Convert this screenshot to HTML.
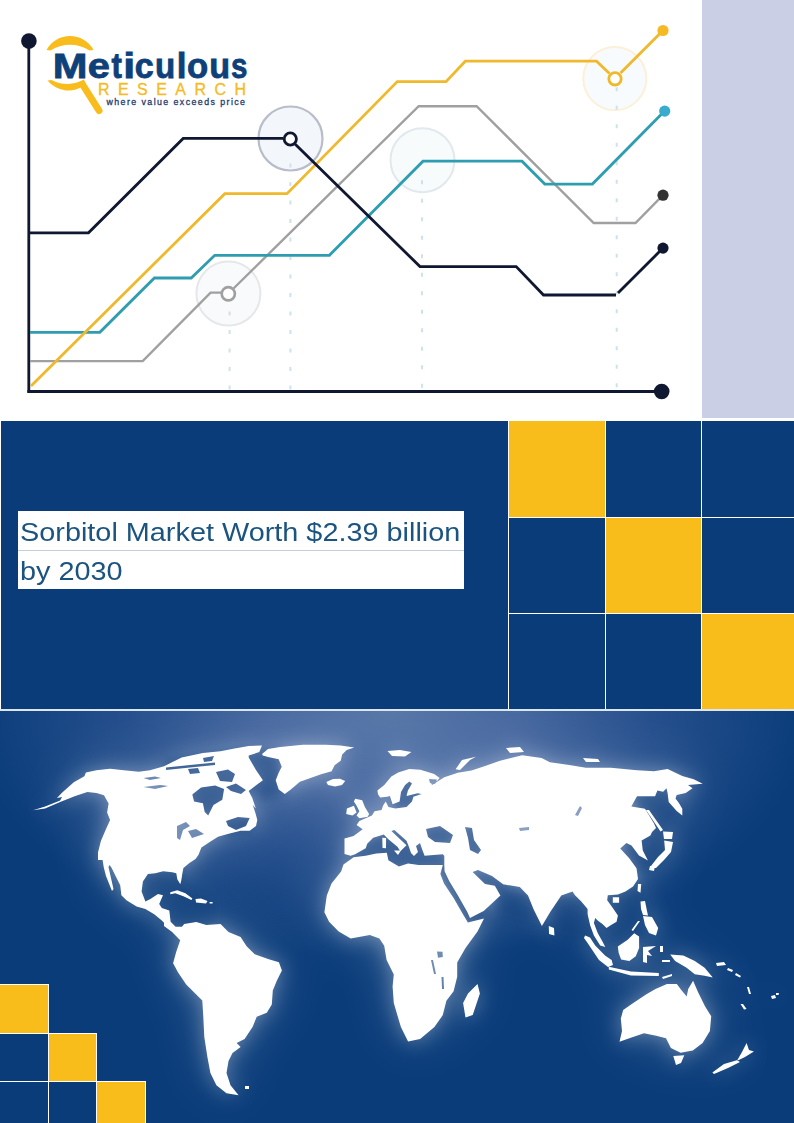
<!DOCTYPE html>
<html><head><meta charset="utf-8">
<style>
html,body{margin:0;padding:0;}
body{width:794px;height:1123px;position:relative;overflow:hidden;background:#fff;font-family:"Liberation Sans",sans-serif;}
.abs{position:absolute;}
#lav{left:702px;top:0;width:92px;height:417.5px;background:#cbcfe5;}
#mid{left:1px;top:421px;width:793px;height:288px;background:#0a3c7a;}
#bot{left:0;top:710px;width:794px;height:413px;background:#0a3c7a;overflow:hidden;}
#title{left:18px;top:511px;width:446px;height:78px;background:#fff;}
#title .l{position:absolute;left:1.5px;transform:scaleX(1.131);transform-origin:0 0;font-size:25.5px;color:#1c5480;white-space:nowrap;}
#title .sep{position:absolute;left:0;top:39px;width:446px;height:1px;background:#c3cfdc;}
.cell{position:absolute;}
</style></head>
<body>
<div class="abs" id="lav"></div>

<svg class="abs" style="left:0;top:0" width="702" height="420" viewBox="0 0 702 420">
  <!-- big halo circles -->
  <circle cx="290.5" cy="138.5" r="32" fill="#f3f6fa" stroke="#b9bdc9" stroke-width="2.2"/>
  <circle cx="422.5" cy="160.2" r="32" fill="#f8fbfc" stroke="#e1e9ed" stroke-width="2"/>
  <circle cx="228.4" cy="293.6" r="32" fill="#f8fafb" stroke="#e6e7ea" stroke-width="2"/>
  <circle cx="614.8" cy="78.6" r="31.5" fill="#f8fbfd" stroke="#fcf0d8" stroke-width="2"/>
  <!-- dashed verticals -->
  <g stroke="#cfe2ec" stroke-width="2" stroke-dasharray="4 14.5">
    <line x1="229.6" y1="311.5" x2="229.6" y2="390"/>
    <line x1="290.4" y1="163.6" x2="290.4" y2="390"/>
    <line x1="422" y1="180.2" x2="422" y2="390"/>
    <line x1="616.7" y1="87.3" x2="616.7" y2="390"/>
  </g>
  <!-- axes -->
  <line x1="28.8" y1="41" x2="28.8" y2="392.8" stroke="#0f1731" stroke-width="2.8"/>
  <line x1="27.4" y1="391.4" x2="661.7" y2="391.4" stroke="#0f1731" stroke-width="3"/>
  <circle cx="28.9" cy="41.1" r="7.8" fill="#0f1731"/>
  <circle cx="661.7" cy="391.5" r="7.8" fill="#0f1731"/>
  <g fill="none" stroke-width="2.8" stroke-linejoin="miter">
    <polyline stroke="#a0a0a0" stroke-width="2.4" points="30,361.1 142.7,361.1 210.6,292.6 221,292.6"/>
    <polyline stroke="#a0a0a0" stroke-width="2.4" points="233.5,288.5 418.7,106.2 476.6,106.2 593.7,223 635.5,223 663,195.2"/>
    <polyline stroke="#2f9db0" points="30,332.3 99.8,332.3 154.4,278 191.2,278 214.8,255.3 329.4,255.3 423,161.2 522,161.2 544.8,184.1 592.4,184.1 664.6,111.1"/>
    <polyline stroke="#f0b92c" points="31,386 224.8,193.7 287,193.7 397.3,81.6 446,81.6 465.3,61.2 596.5,61.2 609.5,73.5"/>
    <polyline stroke="#f0b92c" points="620.5,73 663,30.5"/>
    <polyline stroke="#0f1731" points="30,232.8 88.5,232.8 183.2,138.4 283,138.4"/>
    <polyline stroke="#0f1731" points="295,144 420,266.6 516.2,266.6 543.5,295 616,295"/>
    <polyline stroke="#0f1731" points="618,293 663,248.1"/>
  </g>
  <!-- small ring markers -->
  <circle cx="290.3" cy="139" r="6.1" fill="#fff" stroke="#0f1731" stroke-width="2.8"/>
  <circle cx="228.3" cy="293.8" r="6.6" fill="#fff" stroke="#a0a0a0" stroke-width="2.7"/>
  <circle cx="615" cy="78.8" r="6.2" fill="#fff" stroke="#f0b92c" stroke-width="2.8"/>
  <!-- end dots -->
  <circle cx="663" cy="30.5" r="5.6" fill="#f5b923"/>
  <circle cx="664.7" cy="111.1" r="5.6" fill="#3aabcc"/>
  <circle cx="663" cy="195.2" r="5.6" fill="#333333"/>
  <circle cx="663" cy="248.1" r="5.6" fill="#0f1731"/>
</svg>

<!-- logo -->
<svg class="abs" style="left:0;top:0" width="260" height="120" viewBox="0 0 260 120">
  <path d="M46.5,50 A26.8,26.8 0 0 1 93.5,50 L89.5,50.5 A36,36 0 0 0 50.5,50.5 Z" fill="#f8bc1c"/>
  <path d="M47.5,80.5 A26.8,26.8 0 0 0 86,84 L84,79.5 A34,34 0 0 1 51.5,80 Z" fill="#f8bc1c"/>
  <line x1="83.5" y1="86" x2="99" y2="110.5" stroke="#f8bc1c" stroke-width="7" stroke-linecap="round"/>
  <text transform="translate(52.78 77.9) scale(1.192 1)" font-family="Liberation Sans" font-weight="bold" font-size="35" fill="#0e4079" stroke="#0e4079" stroke-width="0.8">M</text>
  <text transform="translate(87.81 77.9) scale(1.137 1)" font-family="Liberation Sans" font-weight="bold" font-size="35" fill="#0e4079" stroke="#0e4079" stroke-width="0.8">e</text>
  <text transform="translate(111.39 77.9) scale(0.894 1)" font-family="Liberation Sans" font-weight="bold" font-size="35" fill="#0e4079" stroke="#0e4079" stroke-width="0.8">t</text>
  <text transform="translate(123.20 77.9) scale(1.224 1)" font-family="Liberation Sans" font-weight="bold" font-size="35" fill="#0e4079" stroke="#0e4079" stroke-width="0.8">i</text>
  <text transform="translate(134.74 77.9) scale(0.974 1)" font-family="Liberation Sans" font-weight="bold" font-size="35" fill="#0e4079" stroke="#0e4079" stroke-width="0.8">c</text>
  <text transform="translate(154.91 77.9) scale(0.946 1)" font-family="Liberation Sans" font-weight="bold" font-size="35" fill="#0e4079" stroke="#0e4079" stroke-width="0.8">u</text>
  <text transform="translate(176.75 77.9) scale(1.000 1)" font-family="Liberation Sans" font-weight="bold" font-size="35" fill="#0e4079" stroke="#0e4079" stroke-width="0.8">l</text>
  <text transform="translate(186.91 77.9) scale(0.992 1)" font-family="Liberation Sans" font-weight="bold" font-size="35" fill="#0e4079" stroke="#0e4079" stroke-width="0.8">o</text>
  <text transform="translate(209.15 77.9) scale(0.976 1)" font-family="Liberation Sans" font-weight="bold" font-size="35" fill="#0e4079" stroke="#0e4079" stroke-width="0.8">u</text>
  <text transform="translate(230.92 77.9) scale(0.845 1)" font-family="Liberation Sans" font-weight="bold" font-size="35" fill="#0e4079" stroke="#0e4079" stroke-width="0.8">s</text>
  <text x="98" y="95" font-family="Liberation Sans" font-size="16" fill="#f5bb22" stroke="#f5bb22" stroke-width="0.3" textLength="148" lengthAdjust="spacing">RESEARCH</text>
  <text x="106.5" y="104.6" font-family="Liberation Sans" font-size="8.8" fill="#1f3d6e" stroke="#1f3d6e" stroke-width="0.3" textLength="138.5" lengthAdjust="spacing">where value exceeds price</text>
</svg>

<div class="abs" id="mid"></div>
<!-- grid -->
<svg class="abs" style="left:508px;top:420px" width="286" height="291" viewBox="508 420 286 291">
  <rect x="508" y="420" width="286" height="291" fill="#fff"/>
  <rect x="509" y="421" width="96" height="96" fill="#f9bd1b"/>
  <rect x="606" y="421" width="95" height="96" fill="#0a3c7a"/>
  <rect x="702" y="421" width="92" height="96" fill="#0a3c7a"/>
  <rect x="509" y="518" width="96" height="95" fill="#0a3c7a"/>
  <rect x="606" y="518" width="95" height="95" fill="#f9bd1b"/>
  <rect x="702" y="518" width="92" height="95" fill="#0a3c7a"/>
  <rect x="509" y="614" width="96" height="95.5" fill="#0a3c7a"/>
  <rect x="606" y="614" width="95" height="95.5" fill="#0a3c7a"/>
  <rect x="702" y="614" width="92" height="95.5" fill="#f9bd1b"/>
</svg>

<div class="abs" id="title">
  <div class="l" style="top:6.7px">Sorbitol Market Worth $2.39 billion</div>
  <div class="sep"></div>
  <div class="l" style="top:45.5px">by 2030</div>
</div>

<svg class="abs" style="left:0;top:710px" width="794" height="413" viewBox="0 710 794 413">
<defs>
<radialGradient id="bg" cx="390" cy="712" r="400" gradientUnits="userSpaceOnUse" gradientTransform="translate(390 712) scale(1.05 0.62) translate(-390 -712)"><stop offset="0" stop-color="#5878a9"/><stop offset="0.3" stop-color="#4768a0"/><stop offset="0.62" stop-color="#26508d"/><stop offset="1" stop-color="#0a3c7a"/></radialGradient>
<mask id="lm" maskUnits="userSpaceOnUse" x="0" y="700" width="794" height="430"><path d="M33.0,810.3 L45.1,806.5 L60.2,800.5 L62.0,797.0 L57.0,798.0 L61.7,792.9 L73.8,782.3 L84.4,776.3 L85.9,772.5 L96.5,770.2 L110.1,768.7 L123.7,770.2 L138.8,771.7 L150.0,770.2 L164.1,766.2 L181.7,757.4 L202.9,753.0 L220.5,751.2 L234.6,748.6 L248.7,745.9 L262.0,745.5 L259.3,752.1 L248.7,755.6 L248.7,757.4 L255.8,769.7 L262.9,780.3 L255.8,785.6 L248.7,790.9 L252.3,798.0 L255.8,808.5 L252.8,805.1 L255.8,814.2 L257.3,820.0 L256.0,826.0 L249.7,830.8 L240.7,830.8 L228.6,833.8 L218.0,836.8 L210.5,841.4 L201.4,847.4 L198.4,855.0 L195.5,859.1 L189.4,863.1 L183.4,868.1 L182.4,873.2 L181.3,880.2 L180.3,884.3 L177.3,879.2 L176.3,873.2 L172.3,872.2 L163.2,871.2 L155.2,873.2 L147.9,873.9 L142.9,881.4 L141.6,891.5 L145.4,901.6 L150.4,899.0 L158.0,894.0 L163.0,895.3 L159.2,904.1 L161.8,907.9 L169.3,910.4 L170.6,921.7 L175.6,926.8 L183.2,926.8 L185.0,928.0 L180.6,931.8 L174.3,930.5 L168.0,926.8 L161.8,920.5 L154.2,914.2 L145.4,909.1 L136.6,906.6 L126.5,900.3 L121.4,895.3 L120.2,885.2 L111.4,867.6 L109.5,865.0 L108.5,867.0 L113.5,889.0 L112.0,891.0 L106.0,876.0 L103.8,867.6 L102.6,860.0 L98.0,860.0 L98.0,852.6 L100.8,841.2 L105.6,830.0 L110.1,820.0 L107.1,812.5 L108.6,803.5 L104.0,795.2 L96.5,792.9 L87.4,792.1 L75.3,795.9 L60.2,802.0 L45.1,808.5Z M262.1,753.9 L268.0,749.0 L280.2,747.1 L302.9,744.8 L325.6,744.8 L340.7,745.6 L354.3,747.4 L346.7,750.1 L342.2,754.6 L340.7,760.7 L334.6,765.2 L331.6,771.2 L321.0,774.3 L310.5,778.0 L299.9,781.8 L290.8,789.4 L284.8,793.9 L278.7,789.4 L275.7,780.3 L278.7,772.8 L281.7,766.7 L278.7,759.2 L268.1,756.9 L262.8,755.4Z M326.3,782.0 L333.0,779.0 L340.0,778.8 L345.2,781.0 L342.0,785.0 L335.0,786.4 L328.0,785.0Z M387.5,751.0 L400.0,750.0 L411.4,752.0 L405.0,756.4 L392.0,756.0Z M355.2,798.8 L362.2,800.2 L364.9,807.1 L369.1,814.0 L367.7,816.8 L359.4,818.2 L356.6,815.4 L359.4,811.3 L356.6,805.7 L353.9,801.6Z M346.9,808.5 L353.9,805.7 L356.6,812.6 L352.5,815.4 L346.2,814.0Z M378.1,794.6 L377.4,790.5 L384.3,784.9 L391.3,776.6 L398.2,772.5 L409.3,769.0 L420.4,769.7 L434.2,773.9 L439.7,778.0 L437.0,781.0 L430.0,780.0 L432.0,785.0 L444.3,777.2 L457.9,772.7 L471.5,770.4 L485.1,765.9 L500.0,760.8 L522.2,755.2 L541.6,758.0 L549.9,762.2 L569.3,765.0 L585.9,767.7 L610.8,767.7 L637.0,770.2 L654.0,771.3 L667.6,769.1 L682.3,775.9 L693.7,779.3 L702.7,783.8 L688.0,785.0 L692.5,788.3 L685.7,792.9 L676.7,795.1 L675.5,798.5 L678.9,803.1 L682.3,808.7 L682.3,815.5 L676.7,811.0 L668.7,801.9 L667.6,792.9 L666.5,788.3 L663.1,791.7 L657.4,790.6 L655.1,796.3 L637.0,796.3 L631.3,806.5 L645.0,808.7 L654.0,823.5 L656.0,828.0 L652.0,832.0 L650.4,835.4 L641.6,840.5 L642.8,850.5 L647.9,860.6 L639.0,855.6 L631.5,845.5 L626.4,843.0 L620.2,848.6 L629.0,858.1 L636.5,868.2 L638.0,878.9 L633.0,886.4 L625.4,891.5 L617.9,894.6 L607.8,895.3 L607.2,900.3 L612.8,907.9 L617.9,915.4 L616.6,921.7 L610.3,925.5 L606.5,928.0 L602.7,924.2 L597.7,920.5 L595.2,917.9 L593.9,923.0 L597.7,933.0 L602.7,941.9 L605.3,946.9 L600.2,945.6 L593.9,935.6 L590.2,925.5 L587.6,914.2 L587.6,909.1 L581.3,901.6 L575.0,895.3 L572.5,891.5 L561.3,895.4 L550.2,912.0 L541.9,925.9 L533.6,909.3 L528.0,895.4 L519.8,887.1 L503.1,884.3 L492.0,876.0 L478.0,870.0 L472.6,872.0 L485.0,884.0 L494.8,885.7 L500.4,895.4 L483.7,911.0 L470.0,918.0 L467.3,912.0 L457.8,895.3 L449.2,880.9 L444.6,871.3 L444.3,864.9 L444.3,855.8 L442.8,854.3 L424.6,855.8 L422.0,849.0 L420.0,843.0 L416.0,846.0 L418.0,852.0 L414.0,856.0 L411.0,853.0 L409.0,847.0 L406.5,840.7 L394.4,830.1 L391.4,831.0 L406.5,845.2 L400.4,851.3 L397.4,846.7 L388.4,839.2 L383.8,834.6 L373.2,837.7 L367.2,843.7 L365.7,848.2 L355.1,854.3 L350.6,855.8 L344.5,854.0 L344.5,838.4 L353.6,836.1 L362.7,829.3 L356.6,825.1 L359.4,821.0 L371.9,815.4 L374.6,811.3 L381.6,809.9 L383.0,805.7 L385.7,801.6 L388.5,807.1 L395.4,808.5 L406.5,807.1 L412.0,801.6 L413.4,796.7 L421.7,794.0 L417.6,793.3 L406.5,796.0 L407.9,790.5 L412.0,783.6 L409.3,781.5 L405.1,784.9 L401.0,791.9 L399.6,801.6 L392.6,804.3 L389.9,796.0 L387.1,796.7 L380.2,797.4Z M343.5,864.4 L353.6,857.3 L365.7,855.8 L376.3,853.5 L386.8,852.8 L388.4,860.3 L398.9,866.4 L408.0,863.4 L418.6,864.9 L430.7,864.9 L442.8,864.9 L440.4,873.9 L444.0,883.5 L453.6,897.9 L463.1,914.6 L467.9,922.5 L484.0,918.5 L477.5,931.4 L465.5,948.1 L457.2,962.5 L457.2,976.8 L453.6,991.2 L446.4,1000.8 L442.8,1015.1 L434.4,1027.1 L420.1,1039.0 L408.1,1041.4 L400.9,1027.1 L393.8,1003.1 L392.6,986.4 L393.8,974.4 L386.6,960.1 L384.2,945.7 L379.4,938.5 L369.8,934.9 L350.7,938.5 L338.7,931.4 L329.1,921.8 L324.4,912.2 L326.8,895.5 L331.5,883.5 L341.1,871.5Z M477.5,984.0 L479.9,993.6 L472.7,1015.1 L465.5,1017.5 L463.1,1003.1 L468.0,993.6Z M164.0,920.0 L172.1,928.1 L180.2,929.1 L184.2,924.0 L196.3,922.0 L206.3,925.0 L220.5,924.0 L228.5,932.1 L240.6,937.1 L246.6,946.2 L254.7,954.3 L268.8,959.3 L278.9,962.3 L281.9,970.4 L276.9,980.5 L272.8,990.5 L271.8,1004.6 L266.8,1012.7 L256.7,1016.7 L252.7,1026.8 L244.6,1038.9 L236.6,1042.9 L240.6,1047.0 L232.5,1053.0 L228.5,1061.1 L226.5,1073.1 L230.5,1085.2 L238.6,1095.3 L226.5,1093.3 L216.4,1085.2 L210.4,1073.1 L207.4,1057.0 L204.3,1036.9 L203.3,1016.7 L202.3,1000.6 L186.2,984.5 L178.1,972.4 L173.1,963.3 L176.1,952.2 L180.2,940.2 L172.1,932.1 L164.0,926.0Z M623.2,1010.1 L631.8,1004.0 L646.4,994.2 L655.5,988.9 L667.0,984.0 L676.8,984.0 L681.7,990.6 L686.7,996.6 L688.2,988.9 L693.1,980.8 L698.1,992.2 L705.1,1006.4 L711.2,1016.2 L709.9,1030.9 L702.6,1043.1 L692.8,1050.4 L680.6,1052.8 L670.9,1048.0 L666.0,1038.2 L656.2,1035.7 L644.0,1033.3 L629.3,1038.2 L619.5,1041.8 L622.0,1030.9 L620.8,1018.6Z M673.3,1056.0 L684.3,1055.3 L681.0,1063.0 L676.0,1065.1Z M746.6,1043.1 L749.0,1050.0 L753.9,1051.6 L745.0,1057.0 L736.8,1061.0 L742.0,1052.0Z M736.8,1060.2 L740.0,1062.0 L728.0,1068.0 L714.0,1074.0 L712.4,1072.4 L724.0,1064.0Z M585.1,935.6 L590.0,937.5 L595.2,945.6 L605.3,955.7 L611.6,960.0 L613.0,965.0 L608.0,967.0 L599.0,960.0 L587.6,943.1 L584.0,938.0Z M608.8,966.7 L630.9,971.4 L658.8,973.0 L658.8,976.0 L630.9,975.4 L608.8,969.5Z M617.8,946.4 L627.7,939.8 L634.2,933.3 L639.1,936.5 L639.1,948.0 L635.8,956.2 L629.3,961.1 L621.1,959.5 L618.7,952.9Z M643.0,947.0 L656.0,946.0 L648.0,951.0 L652.0,956.0 L647.0,955.0 L647.0,963.0 L643.0,962.0Z M670.2,954.6 L683.3,955.4 L694.8,961.1 L704.6,967.7 L712.8,977.5 L704.6,975.8 L694.8,974.2 L686.6,967.7 L675.1,961.1Z M640.5,901.6 L645.0,901.0 L646.8,910.0 L648.0,915.4 L643.0,915.0 L641.0,909.0Z M643.0,916.0 L652.0,917.0 L658.2,928.0 L656.0,935.6 L649.0,933.0 L645.0,925.0Z M638.0,921.0 L640.0,921.0 L633.0,931.0 L631.5,930.0Z M664.2,840.5 L673.0,842.0 L671.0,852.0 L664.0,860.0 L656.0,868.0 L651.0,866.0 L658.0,857.0 L665.0,850.0Z M663.0,831.6 L673.0,832.0 L672.0,839.0 L664.0,839.0Z M646.0,810.0 L649.0,810.0 L663.0,830.0 L660.5,831.5Z M548.8,926.0 L554.0,928.0 L554.4,935.6 L549.0,934.0Z M638.0,884.0 L641.2,884.0 L640.5,892.7 L637.5,891.0Z M612.8,897.2 L619.1,897.2 L619.1,902.8 L612.8,902.8Z M170.3,892.3 L177.3,890.3 L185.4,893.3 L192.4,898.4 L191.4,899.9 L183.4,896.3 L175.3,893.3 L170.3,894.3Z M195.5,899.0 L201.0,898.4 L207.5,901.0 L206.0,903.4 L196.0,902.5Z M209.6,902.0 L212.6,901.9 L212.6,903.4 L209.6,903.4Z M382.3,837.7 L386.1,838.0 L386.0,848.2 L382.5,848.0Z M394.0,850.5 L401.0,850.5 L398.0,855.0Z M716.0,963.0 L724.0,962.0 L726.0,965.0 L717.0,966.0Z M728.0,968.0 L733.0,970.0 L732.0,972.0 L727.0,970.0Z M736.0,973.0 L741.0,976.0 L740.0,977.5 L735.0,975.0Z M747.0,987.0 L749.0,987.0 L751.0,994.0 L749.0,994.0Z M740.5,1004.0 L743.0,1004.0 L746.6,1009.0 L744.0,1009.5Z M771.0,996.0 L775.0,995.0 L776.0,998.0 L772.0,999.0Z M776.0,993.0 L779.0,993.0 L778.5,995.0 L776.0,995.0Z M245.0,1086.0 L249.0,1086.0 L249.0,1089.0 L245.0,1089.0Z M650.0,866.0 L655.0,866.0 L654.0,871.0 L649.0,870.0Z M662.0,977.0 L672.0,974.0 L672.0,976.0 L663.0,979.0Z M660.0,946.0 L663.0,946.0 L663.0,952.0 L660.0,952.0Z M662.0,960.0 L670.0,960.0 L670.0,962.0 L662.0,962.0Z M455.6,769.3 L462.0,760.0 L476.0,756.8 L470.0,760.0 L460.0,770.0Z M506.0,748.0 L520.0,747.0 L524.0,752.0 L510.0,753.0Z M583.0,758.0 L598.0,759.0 L600.0,762.0 L586.0,762.0Z" fill="#fff"/><path d="M192.3,794.4 L201.1,787.4 L215.2,785.6 L224.1,789.1 L222.3,799.7 L213.5,805.0 L208.2,815.6 L204.7,812.1 L202.9,803.2 L194.1,801.5Z M216.0,772.0 L228.0,769.5 L235.0,774.0 L232.0,782.0 L220.0,781.0Z M226.0,787.0 L236.0,783.5 L246.0,790.0 L241.0,794.0 L231.0,791.0Z M166.0,767.5 L190.0,765.0 L215.0,762.5 L215.0,765.0 L190.0,767.5 L166.0,770.0Z M188.0,769.0 L198.0,768.0 L200.0,773.0 L190.0,774.0Z M203.0,758.0 L214.0,756.0 L212.0,761.0 L204.0,762.0Z M143.5,778.0 L155.0,776.6 L161.0,778.0 L150.0,780.0Z M143.5,787.0 L160.0,785.0 L168.0,786.0 L155.0,789.0Z M226.0,821.0 L238.0,817.0 L249.7,818.0 L246.0,826.0 L236.0,830.0 L228.0,826.0Z M177.0,826.0 L186.0,822.0 L190.0,826.0 L183.0,830.0 L180.0,840.0 L177.0,838.0Z M188.0,831.0 L196.0,829.0 L204.0,834.0 L192.0,838.0Z M426.0,829.0 L440.0,826.0 L453.0,835.0 L450.0,843.0 L435.0,842.0 L428.0,837.0Z M465.0,827.0 L472.0,828.0 L474.0,840.0 L481.0,850.0 L478.0,854.0 L470.0,850.0 L468.0,838.0Z M580.0,806.0 L582.0,808.0 L578.0,816.0 L575.0,815.0Z M519.0,828.0 L529.0,827.0 L529.0,830.0 L520.0,831.0Z M437.0,951.5 L442.5,951.7 L442.8,957.0 L438.0,957.7Z M431.0,960.0 L433.0,960.0 L436.0,974.0 L434.0,974.0Z M441.5,977.0 L443.5,977.0 L444.0,989.0 L442.0,989.0Z M429.0,779.0 L437.0,779.5 L435.0,784.0 L430.0,783.0Z" fill="#000"/></mask>
<filter id="glow" x="-50%" y="-50%" width="200%" height="200%"><feGaussianBlur stdDeviation="26"/></filter><filter id="soft" x="-50%" y="-50%" width="200%" height="200%"><feGaussianBlur stdDeviation="5"/></filter>
<filter id="glow2" x="-50%" y="-50%" width="200%" height="200%"><feGaussianBlur stdDeviation="10"/></filter>
</defs>
<rect x="0" y="710" width="794" height="413" fill="url(#bg)"/>
<g filter="url(#glow)" opacity="0.2"><rect x="0" y="700" width="794" height="430" fill="#fff" mask="url(#lm)"/></g>
<g filter="url(#glow2)" opacity="0.32"><rect x="0" y="700" width="794" height="430" fill="#fff" mask="url(#lm)"/></g>
<g filter="url(#soft)" opacity="0.45"><path d="M352.0,853.0 L368.0,840.0 L385.0,832.0 L395.0,828.0 L410.0,838.0 L425.0,848.0 L446.0,850.0 L447.0,867.0 L400.0,871.0 L352.0,862.0Z M423.0,825.0 L455.0,824.0 L456.0,845.0 L423.0,845.0Z M462.0,824.0 L484.0,824.0 L485.0,857.0 L462.0,857.0Z M437.0,868.0 L447.0,866.0 L487.0,910.0 L487.0,918.0 L467.0,925.0Z M470.0,867.0 L506.0,880.0 L502.0,892.0 L478.0,884.0Z M139.0,870.0 L182.0,866.0 L186.0,885.0 L212.0,896.0 L214.0,924.0 L186.0,932.0 L162.0,915.0 L139.0,904.0Z M188.0,782.0 L228.0,782.0 L248.0,792.0 L228.0,818.0 L188.0,818.0Z M394.0,778.0 L424.0,778.0 L424.0,811.0 L394.0,811.0Z M628.0,828.0 L662.0,826.0 L668.0,858.0 L645.0,874.0 L622.0,852.0Z M630.0,790.0 L668.0,786.0 L680.0,812.0 L662.0,832.0 L640.0,815.0Z M222.0,815.0 L252.0,815.0 L252.0,832.0 L222.0,836.0Z M246.0,752.0 L280.0,752.0 L284.0,796.0 L256.0,800.0 L262.0,780.0Z M164.0,760.0 L246.0,748.0 L262.0,790.0 L230.0,800.0 L164.0,790.0Z M600.0,895.0 L640.0,885.0 L650.0,940.0 L620.0,945.0 L596.0,925.0Z M545.0,895.0 L590.0,895.0 L600.0,940.0 L560.0,935.0Z M495.0,885.0 L535.0,895.0 L540.0,925.0 L500.0,915.0Z" fill="#0a3c7a"/></g>
<rect x="0" y="700" width="794" height="430" fill="#fff" mask="url(#lm)"/>
</svg>
<div class="abs" style="left:0;top:709px;width:794px;height:2px;background:#dce6f1"></div>

<!-- bottom-left steps -->
<svg class="abs" style="left:0;top:984px" width="146" height="139" viewBox="0 984 146 139" shape-rendering="crispEdges">
  <rect x="0" y="984" width="49" height="50" fill="#fff"/>
  <rect x="0" y="1033" width="97" height="49" fill="#fff"/>
  <rect x="0" y="1081" width="146" height="42" fill="#fff"/>
  <rect x="0" y="985" width="48" height="48" fill="#f9bd1b"/>
  <rect x="0" y="1034" width="48" height="47" fill="#0a3c7a"/>
  <rect x="49" y="1034" width="47" height="47" fill="#f9bd1b"/>
  <rect x="0" y="1082" width="48" height="41" fill="#0a3c7a"/>
  <rect x="49" y="1082" width="47" height="41" fill="#0a3c7a"/>
  <rect x="97" y="1082" width="48" height="41" fill="#f9bd1b"/>
</svg>
</body></html>
